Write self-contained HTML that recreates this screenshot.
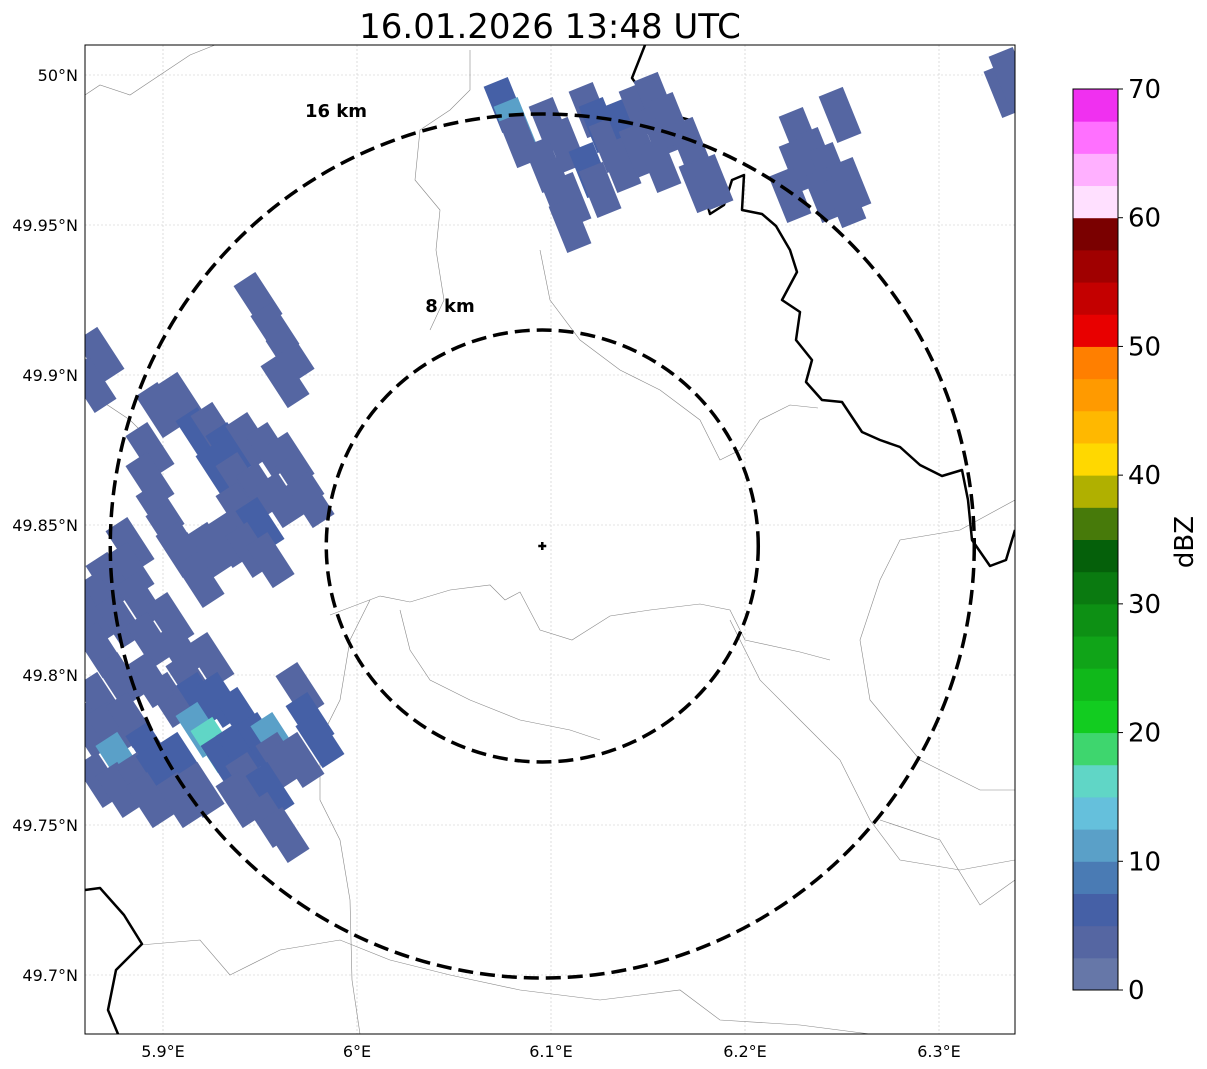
<!DOCTYPE html>
<html><head><meta charset="utf-8"><style>
body{margin:0;background:#fff;}
svg{display:block;font-family:"DejaVu Sans","Liberation Sans",sans-serif;}
</style></head><body>
<svg id="chart" width="1207" height="1069" viewBox="0 0 1207 1069">
<text x="550" y="38" font-size="34" text-anchor="middle">16.01.2026 13:48 UTC</text>
<defs><clipPath id="clip"><rect x="85" y="45" width="930" height="989"/></clipPath></defs>
<g id="grid"></g>
<g id="borders" clip-path="url(#clip)"></g>
<g id="echoes" clip-path="url(#clip)"></g>
<g id="rings"></g>
<rect x="85" y="45" width="930" height="989" fill="none" stroke="#000" stroke-width="1"/>
<g id="ticks"></g>
<g id="cbar"></g>
<text x="0" y="0" transform="translate(1193,542) rotate(-90)" font-size="26" text-anchor="middle">dBZ</text>
</svg>
<script>
const lonTicks=[5.9,6.0,6.1,6.2,6.3];
const lonLabels=["5.9°E","6°E","6.1°E","6.2°E","6.3°E"];
const latTicks=[50,49.95,49.9,49.85,49.8,49.75,49.7];
const latLabels=["50°N","49.95°N","49.9°N","49.85°N","49.8°N","49.75°N","49.7°N"];
const cbarTicks=[0,10,20,30,40,50,60,70];
const cbarColors=["#6677a8","#5566a2","#4560a6","#4a7bb4","#5aa0c8","#65c0dc","#60d6c6","#3ed66e","#12cc20","#10b81a","#10a418","#0d9014","#0a7a10","#05600a","#477a0a","#b0b000","#ffd800","#ffb800","#ff9a00","#ff7f00","#e80000","#c40000","#a00000","#7a0000","#ffe0ff","#ffb0ff","#ff70ff","#f030f0"];
const radarLon=6.0955, radarLat=49.843;
const ringKm=[8,16];
const ringLabels=["8 km","16 km"];
// echo cells
const cellLon=[
5.9490,5.9577,5.9655,5.9629,5.8675,5.8634,5.8985,5.9088,5.9191,5.9268,
5.9345,5.9448,5.9552,5.9655,5.9706,5.9758,5.9294,5.9397,5.9500,5.9603,
5.9397,5.9500,5.9345,5.9448,5.9552,5.9242,5.9139,5.8933,5.8933,5.8985,
5.9036,5.9088,5.9191,5.8830,5.8830,5.8727,5.8675,5.8624,5.8675,5.8778,
5.8881,5.8933,5.9036,5.9088,5.9139,5.9242,5.9191,5.9294,5.9397,5.9036,
5.8933,5.8778,5.8675,5.8624,5.8727,5.8830,5.8933,5.8778,5.8675,5.8778,
5.8881,5.8985,5.9088,5.9191,5.9268,5.9320,5.9397,5.9500,5.9577,5.9603,
5.9448,5.9552,5.9397,5.9191,5.9088,5.8933,5.9552,5.9629,5.9706,5.9758,
5.9809,5.9706,
6.0763,6.0814,6.0840,6.0995,6.1072,6.0969,6.1021,6.1098,6.1098,6.1201,
6.1253,6.1304,6.1381,6.1459,6.1536,6.1356,6.1459,6.1562,6.1562,6.1201,
6.1253,6.1613,6.1716,6.1768,6.1830,
6.2284,6.2361,6.2438,6.2284,6.2490,6.2412,6.2515,6.2541,6.2232,6.3340,
6.3366];
const cellLat=[
49.925,49.915,49.9067,49.8983,49.9067,49.8967,49.8883,49.8917,49.88,49.8817,
49.875,49.8783,49.875,49.8717,49.865,49.8583,49.8683,49.865,49.8617,49.8583,
49.855,49.85,49.845,49.8417,49.8383,49.8417,49.8383,49.875,49.865,49.855,
49.8483,49.8417,49.8317,49.8433,49.835,49.8317,49.825,49.8183,49.8083,49.8183,
49.825,49.8117,49.8183,49.8083,49.7983,49.805,49.7917,49.7917,49.7867,49.7917,
49.7983,49.7983,49.7917,49.7817,49.7817,49.785,49.775,49.7717,49.765,49.7617,
49.765,49.7683,49.7717,49.7817,49.7767,49.7717,49.775,49.7783,49.7783,49.7717,
49.765,49.7617,49.7583,49.7617,49.7583,49.7583,49.7517,49.7467,49.795,49.785,
49.7783,49.7717,
49.99,49.9833,49.9783,49.9833,49.9767,49.97,49.9633,49.9583,49.95,49.9883,
49.9833,49.9767,49.9833,49.9883,49.9917,49.97,49.975,49.97,49.9817,49.9683,
49.9617,49.985,49.9767,49.9633,49.9643,
49.98,49.9733,49.9683,49.97,49.9867,49.96,49.9583,49.9633,49.96,49.995,
50.0];
const cellDbz=[
3,3,3,3,3,3,3,3,5,3,
5,3,3,3,3,3,5,3,3,3,
3,5,3,3,3,3,3,3,3,3,
3,3,3,3,3,3,3,3,3,3,
3,3,3,3,3,3,5,5,5,3,
3,3,3,3,3,3,7,10,3,3,
3,7,5,12,16,7,7,5,12,3,
3,5,3,3,3,3,3,3,3,7,
5,3,
5,12,3,3,3,3,3,3,3,3,
5,3,5,3,3,3,3,3,3,5,
3,3,3,3,3,
3,3,3,3,3,3,3,3,3,3,
3];
const blackA=[[645,45],[632,78],[642,92],[660,112],[690,120],[680,150],[693,160],[702,185],[710,214],[724,205],[732,180],[744,175],[742,210],[762,214],[776,226],[790,250],[797,272],[782,300],[800,312],[796,340],[812,360],[806,382],[822,400],[842,402],[862,432],[880,440],[900,447],[920,465],[942,476],[962,470],[968,500],[972,540],[990,566],[1006,560],[1015,530]];
const blackB=[[85,890],[100,888],[124,915],[142,944],[116,970],[108,1010],[118,1034]];
const greyLines=[
[[330,615],[380,596],[410,602],[450,590],[490,585],[505,600],[520,592],[540,630],[572,640],[610,616],[650,610],[700,604],[730,610],[745,640],[800,652],[830,660]],
[[470,50],[470,90],[450,110],[420,130],[415,180],[440,210],[436,250],[444,300],[430,330]],
[[540,250],[550,300],[580,340],[620,370],[660,390],[700,420],[720,460],[740,450],[760,420],[790,405],[818,408]],
[[85,95],[100,85],[130,95],[160,75],[190,55],[215,45]],
[[370,600],[350,640],[340,700],[320,740],[320,800],[340,840],[350,900],[352,980],[360,1034]],
[[400,610],[410,650],[430,680],[470,700],[520,720],[570,730],[600,740]],
[[730,620],[760,680],[800,720],[840,760],[870,820],[900,860],[960,870],[1015,860]],
[[1015,500],[960,530],[900,540],[880,580],[860,640],[870,700],[920,760],[980,790],[1015,790]],
[[140,945],[200,940],[230,975],[280,950],[340,940],[390,960],[450,975],[520,990],[600,1000],[680,990],[720,1020],[800,1025],[870,1034]],
[[880,820],[940,840],[980,905],[1015,880]],
[[150,440],[130,420],[100,400],[85,380]]
];
const NS="http://www.w3.org/2000/svg";
const X0=85,X1=1015,Y0=45,Y1=1034;
function xs(lon){return 163+(lon-5.9)*1940;}
function ys(lat){return 75+(50-lat)*3000;}
function mk(tag,attrs,parent){const e=document.createElementNS(NS,tag);for(const k in attrs)e.setAttribute(k,attrs[k]);parent.appendChild(e);return e;}
const grid=document.getElementById('grid'),ticks=document.getElementById('ticks');
lonTicks.forEach((v,i)=>{const x=xs(v);
 const l=mk('line',{x1:x,x2:x,y1:Y0,y2:Y1,stroke:'#c8c8c8','stroke-width':0.6,'stroke-dasharray':'2,2'},grid);
 
 const t=mk('text',{x:x,y:1057,'font-size':16,'text-anchor':'middle'},ticks);t.textContent=lonLabels[i];
 });
latTicks.forEach((v,i)=>{const y=ys(v);
 const l=mk('line',{x1:X0,x2:X1,y1:y,y2:y,stroke:'#c8c8c8','stroke-width':0.6,'stroke-dasharray':'2,2'},grid);
 
 const t=mk('text',{x:78,y:y+6,'font-size':16,'text-anchor':'end'},ticks);t.textContent=latLabels[i];
 });
const borders=document.getElementById('borders');
greyLines.forEach(p=>{const e=mk('polyline',{points:p.map(q=>q.join(',')).join(' '),fill:'none',stroke:'#888','stroke-width':0.6},borders);
 });
[blackA,blackB].forEach(p=>{const e=mk('polyline',{points:p.map(q=>q.join(',')).join(' '),fill:'none',stroke:'#000','stroke-width':2.5,'stroke-linejoin':'round'},borders);
 });
function colorFor(d){let i=Math.floor(d/2.5);if(!(i>=0))i=0;if(i>27)i=27;return cbarColors[i];}
const echoes=document.getElementById('echoes');
cellLon.forEach((lon,i)=>{const x=xs(lon),y=ys(cellLat[i]);const ang=cellLat[i]>49.94?68:57;
 const r=mk('rect',{x:x-25,y:y-13,width:50,height:26,fill:colorFor(cellDbz[i]),transform:`rotate(${ang} ${x} ${y})`},echoes);
 });
const rings=document.getElementById('rings');
const cx=xs(radarLon),cy=ys(radarLat);
const labelPos=[[450,312],[336,117]];
ringKm.forEach((km,i)=>{const rad=km*27;
 const c=mk('circle',{cx:cx,cy:cy,r:rad,fill:'none',stroke:'#000','stroke-width':3.5,'stroke-dasharray':'15,7'},rings);
 
 const t=mk('text',{x:labelPos[i][0],y:labelPos[i][1],'font-size':18,'font-weight':'bold','text-anchor':'middle'},rings);t.textContent=ringLabels[i];
 });
const m=mk('path',{d:`M${cx-4} ${cy}H${cx+4}M${cx} ${cy-4}V${cy+4}`,stroke:'#000','stroke-width':2.5},rings);

const cb=document.getElementById('cbar');
const cbx=1073,cbw=45,cbTop=89,cbBot=990;
function cy2(v){return cbBot-(v/70)*(cbBot-cbTop);}
cbarColors.forEach((c,i)=>{const y1=cy2(i*2.5),y2=cy2((i+1)*2.5);
 const r=mk('rect',{x:cbx,y:y2,width:cbw,height:y1-y2+0.5,fill:c},cb);
 });
mk('rect',{x:cbx,y:cbTop,width:cbw,height:cbBot-cbTop,fill:'none',stroke:'#000','stroke-width':1},cb);
cbarTicks.forEach(v=>{const y=cy2(v);
 mk('line',{x1:cbx+cbw,x2:cbx+cbw+5,y1:y,y2:y,stroke:'#000'},cb);
 const t=mk('text',{x:cbx+cbw+10,y:y+9,'font-size':26},cb);t.textContent=v;
 });
</script>
</body></html>
